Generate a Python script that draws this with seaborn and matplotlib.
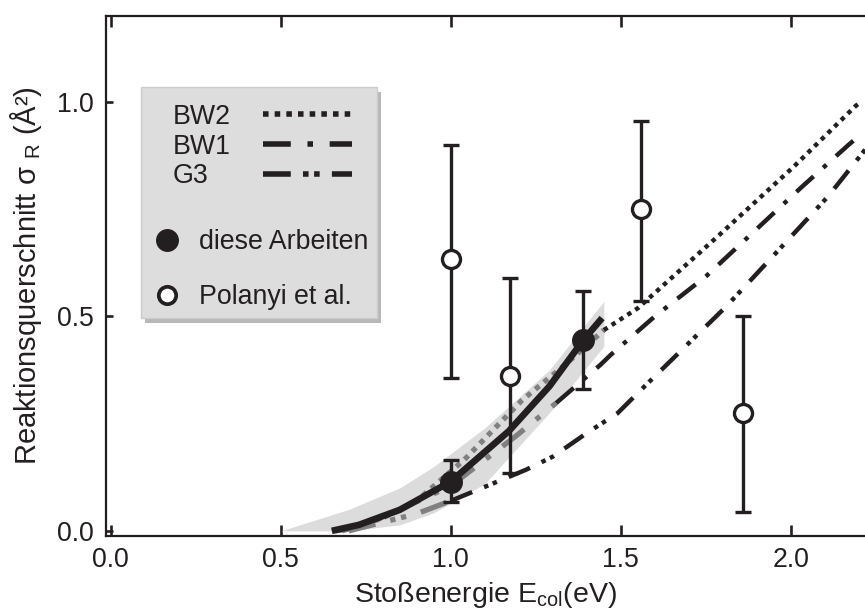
import matplotlib
matplotlib.use("Agg")
import matplotlib.pyplot as plt
from matplotlib.lines import Line2D
from matplotlib.patches import Rectangle
import pandas as pd
import seaborn as sns

# ---------------- data ----------------
# fit through own measurements (thick solid line) and its uncertainty band
fit_x = [0.65, 0.73, 0.85, 1.0, 1.17, 1.29, 1.39, 1.445]
fit_y = [0.0, 0.014, 0.049, 0.115, 0.232, 0.337, 0.445, 0.496]
band_x = [0.5, 0.7, 0.85, 0.95, 1.1, 1.29, 1.45]
band_lo = [0.0, 0.0, 0.014, 0.042, 0.11, 0.275, 0.43]
band_hi = [0.0, 0.05, 0.10, 0.15, 0.24, 0.375, 0.535]

# model curves: grey part (within measured range) and black continuation
bw2_grey_x = [0.68, 0.8, 0.9, 1.04, 1.21, 1.33, 1.45]
bw2_grey_y = [0.0, 0.03, 0.07, 0.166, 0.305, 0.383, 0.468]
bw2_x = [1.45, 1.55, 1.79, 2.01, 2.19, 2.2]
bw2_y = [0.468, 0.519, 0.69, 0.85, 0.99, 0.996]

bw1_grey_x = [0.66, 0.73, 0.87, 1.0, 1.19, 1.31]
bw1_grey_y = [0.0, 0.007, 0.057, 0.105, 0.22, 0.298]
bw1_x = [1.31, 1.44, 1.47, 1.6, 1.75, 2.03, 2.17, 2.2]
bw1_y = [0.298, 0.387, 0.41, 0.50, 0.593, 0.80, 0.90, 0.92]

g3_grey_x = [0.7, 0.8, 0.9, 1.0]
g3_grey_y = [0.0, 0.02, 0.04, 0.07]
g3_x = [1.0, 1.08, 1.22, 1.3, 1.4, 1.49, 1.57, 1.81, 1.96, 2.11, 2.22]
g3_y = [0.07, 0.096, 0.142, 0.173, 0.228, 0.274, 0.337, 0.523, 0.651, 0.78, 0.89]

# own measurements ("diese Arbeiten")
own_x = [1.0, 1.39]
own_y = [0.115, 0.445]
own_lo = [0.068, 0.33]
own_hi = [0.166, 0.56]

# Polanyi et al.
pol_x = [1.0, 1.175, 1.56, 1.86]
pol_y = [0.634, 0.36, 0.749, 0.274]
pol_lo = [0.357, 0.135, 0.535, 0.045]
pol_hi = [0.90, 0.589, 0.955, 0.501]

x_ticks = [0.0, 0.5, 1.0, 1.5, 2.0]
x_ticklabels = ["0.0", "0.5", "1.0", "1.5", "2.0"]
y_ticks = [0.0, 0.5, 1.0]
y_ticklabels = ["0.0", "0.5", "1.0"]

legend_curve_labels = ["BW2", "BW1", "G3"]
legend_point_labels = ["diese Arbeiten", "Polanyi et al."]

# ---------------- style ----------------
sns.set_theme(style="ticks")
plt.rcParams["font.family"] = ["Liberation Sans", "DejaVu Sans"]
plt.rcParams["mathtext.fontset"] = "custom"
plt.rcParams["mathtext.rm"] = "Liberation Sans"
plt.rcParams["mathtext.it"] = "Liberation Sans:italic"
plt.rcParams["mathtext.bf"] = "Liberation Sans:bold"

INK = "#231f20"
GREY = "#808080"
BAND = "#dcdcdc"
FS_TICK = 19.2
FS_LEG = 19.3
FS_XL = 20.5
FS_YL = 21

LS_BW2 = (0, (1, 1.1))
LS_BW1 = (0, (5.2, 2.9, 1, 2.9))
LS_G3 = (0, (5.2, 2.9, 1, 1.1, 1, 2.9))

fig = plt.figure(figsize=(8.65, 6.16), dpi=100)
ax = fig.add_axes([106 / 865, 1 - 536 / 616, 759 / 865, 520 / 616])

# band
ax.fill_between(band_x, band_lo, band_hi, color=BAND, lw=0, zorder=1)

def curve(x, y, color, lw, ls, z):
    df = pd.DataFrame({"x": x, "y": y})
    sns.lineplot(data=df, x="x", y="y", ax=ax, color=color, linewidth=lw,
                 linestyle=ls, estimator=None, sort=False, zorder=z,
                 dash_capstyle="butt", solid_capstyle="butt")

# grey model parts
curve(bw2_grey_x, bw2_grey_y, GREY, 3.8, LS_BW2, 2)
curve(bw1_grey_x, bw1_grey_y, GREY, 3.8, LS_BW1, 2)
curve(g3_grey_x, g3_grey_y, GREY, 3.8, LS_G3, 2)
# black model parts
curve(bw2_x, bw2_y, INK, 3.2, LS_BW2, 3)
curve(bw1_x, bw1_y, INK, 3.2, LS_BW1, 3)
curve(g3_x, g3_y, INK, 3.2, LS_G3, 3)
# fit
curve(fit_x, fit_y, INK, 4.8, "-", 4)

# error bars
own_err = [[y - l for y, l in zip(own_y, own_lo)], [h - y for y, h in zip(own_y, own_hi)]]
pol_err = [[y - l for y, l in zip(pol_y, pol_lo)], [h - y for y, h in zip(pol_y, pol_hi)]]
ax.errorbar(own_x, own_y, yerr=own_err, fmt="none", ecolor=INK, elinewidth=2.4,
            capsize=5.8, capthick=2.4, zorder=5)
ax.errorbar(pol_x, pol_y, yerr=pol_err, fmt="none", ecolor=INK, elinewidth=2.4,
            capsize=5.8, capthick=2.4, zorder=5)

# markers
sns.scatterplot(x=own_x, y=own_y, ax=ax, s=15.5 ** 2, color=INK, edgecolor=INK,
                linewidth=1, zorder=6)
sns.scatterplot(x=pol_x, y=pol_y, ax=ax, s=13 ** 2, facecolor="white", edgecolor=INK,
                linewidth=2.4, zorder=6)

# axes
ax.set_xlim(-0.014, 2.218)
ax.set_ylim(-0.012, 1.2)
ax.set_xticks(x_ticks)
ax.set_xticklabels(x_ticklabels)
ax.set_yticks(y_ticks)
ax.set_yticklabels(y_ticklabels)
ax.tick_params(axis="x", which="both", direction="in", length=8, width=1.9,
               color=INK, top=True, labeltop=False, labelsize=FS_TICK, labelcolor=INK, pad=8)
ax.tick_params(axis="y", direction="in", length=5, width=1.9, color=INK,
               labelsize=FS_TICK, labelcolor=INK, pad=9)
for side in ["left", "bottom", "top"]:
    ax.spines[side].set_linewidth(1.6)
    ax.spines[side].set_color(INK)
ax.spines["right"].set_visible(False)
ax.set_facecolor("white")

ax.set_xlabel(r"Stoßenergie E$_{\mathrm{col}}$(eV)", fontsize=FS_XL, color=INK, labelpad=5)
ax.set_ylabel(r"Reaktionsquerschnitt σ $_{\mathrm{R}}$ (Å²)", fontsize=FS_YL, color=INK, labelpad=9)

# legend frame with shadow
ax.add_patch(Rectangle((0.0461 + 0.005, 0.419 - 0.009), 0.311, 0.4445,
                       transform=ax.transAxes, facecolor="#b8b8b8", edgecolor="none", zorder=7))
ax.add_patch(Rectangle((0.0461, 0.419), 0.311, 0.4445, transform=ax.transAxes,
                       facecolor="#dddddd", edgecolor="#cccccc", lw=1, zorder=7.5))

h_curves = [
    Line2D([], [], color=INK, lw=4.0, ls=(0, (1, 1.1)), dash_capstyle="butt"),
    Line2D([], [], color=INK, lw=4.0, ls=(0, (5.0, 3.0, 1, 3.0)), dash_capstyle="butt"),
    Line2D([], [], color=INK, lw=4.0, ls=(0, (5.0, 2.2, 1, 1.0, 1, 2.2)), dash_capstyle="butt"),
]
leg1 = ax.legend(handles=h_curves, labels=legend_curve_labels, loc="upper left",
                 bbox_to_anchor=(0.0883, 0.831), borderpad=0, borderaxespad=0,
                 frameon=False, markerfirst=False, handlelength=3.33, handletextpad=1.18,
                 labelspacing=0.14, fontsize=FS_LEG, labelcolor=INK)
leg1.set_zorder(8)
ax.add_artist(leg1)

h_pts = [
    Line2D([], [], ls="none", marker="o", markersize=15.5, color=INK, markeredgecolor=INK),
    Line2D([], [], ls="none", marker="o", markersize=12.5, markerfacecolor="white",
           markeredgecolor=INK, markeredgewidth=2.7),
]
leg2 = ax.legend(handles=h_pts, labels=legend_point_labels, loc="upper left",
                 bbox_to_anchor=(0.0626, 0.590), borderpad=0, borderaxespad=0,
                 frameon=False, handlelength=1.0, handletextpad=0.69,
                 labelspacing=1.09, fontsize=FS_LEG, labelcolor=INK)
leg2.set_zorder(8)

# left-align the curve labels while keeping the line samples in one column
try:
    fig.canvas.draw()
    rend = fig.canvas.get_renderer()
    widths = [t.get_window_extent(rend).width for t in leg1.get_texts()]
    wmax = max(widths)
    col = leg1._legend_handle_box.get_children()[0]
    col.align = "left"
    for hp, w in zip(col.get_children(), widths):
        hp.sep += (wmax - w) * 72.0 / fig.dpi
except Exception:
    pass

fig.savefig("out.png", dpi=100, facecolor="white")
